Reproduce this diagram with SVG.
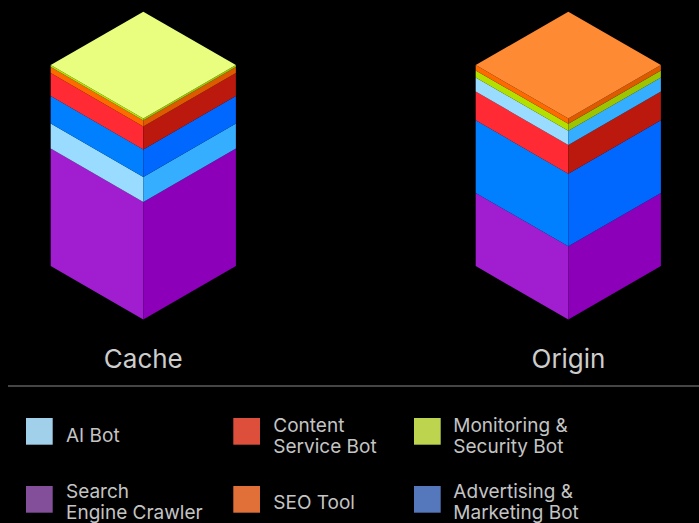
<svg xmlns="http://www.w3.org/2000/svg" width="699" height="523" viewBox="0 0 699 523">
<style>
.lbl{font-family:Inter,"Liberation Sans",sans-serif;font-size:26px;fill:#cdcdcd;text-anchor:middle}
.lg{font-family:Inter,"Liberation Sans",sans-serif;font-size:19px;fill:#c4c4c4}
.gL{fill:#b4e000}.gR{fill:#9cc400}
.oL{fill:#ff6a00}.oR{fill:#dd5a00}
.rL{fill:#ff2a33}.rR{fill:#bb180e}
.bL{fill:#0080ff}.bR{fill:#0068ff}
.lL{fill:#9adcff}.lR{fill:#36aeff}
.pL{fill:#a01ed0}.pR{fill:#8c00ba}
</style>
<rect width="699" height="523" fill="#000"/>
<g id="cache" transform="translate(143.3,65.1)">
  <polygon class="pL" points="-92.6,83.5 0,136.9 0,254.4 -92.6,201"/>
  <polygon class="pR" points="0,136.9 92.6,83.5 92.6,201 0,254.4"/>
  <polygon class="lL" points="-92.6,58.5 0,111.9 0,136.9 -92.6,83.5"/>
  <polygon class="lR" points="0,111.9 92.6,58.5 92.6,83.5 0,136.9"/>
  <polygon class="bL" points="-92.6,31 0,84.4 0,111.9 -92.6,58.5"/>
  <polygon class="bR" points="0,84.4 92.6,31 92.6,58.5 0,111.9"/>
  <polygon class="rL" points="-92.6,8 0,61.4 0,84.4 -92.6,31"/>
  <polygon class="rR" points="0,61.4 92.6,8 92.6,31 0,84.4"/>
  <polygon class="oL" points="-92.6,2 0,55.4 0,61.4 -92.6,8"/>
  <polygon class="oR" points="0,55.4 92.6,2 92.6,8 0,61.4"/>
  <polygon class="gL" points="-92.6,0 0,53.4 0,55.4 -92.6,2"/>
  <polygon class="gR" points="0,53.4 92.6,0 92.6,2 0,55.4"/>
  <polygon fill="#e9fe7e" points="0,-53.4 92.6,0 0,53.4 -92.6,0"/>
</g>
<g id="origin" transform="translate(568.3,65.1)">
  <polygon class="pL" points="-92.6,127.8 0,181.2 0,254.4 -92.6,201"/>
  <polygon class="pR" points="0,181.2 92.6,127.8 92.6,201 0,254.4"/>
  <polygon class="bL" points="-92.6,55.2 0,108.6 0,181.2 -92.6,127.8"/>
  <polygon class="bR" points="0,108.6 92.6,55.2 92.6,127.8 0,181.2"/>
  <polygon class="rL" points="-92.6,26.4 0,79.8 0,108.6 -92.6,55.2"/>
  <polygon class="rR" points="0,79.8 92.6,26.4 92.6,55.2 0,108.6"/>
  <polygon class="lL" points="-92.6,12.3 0,65.7 0,79.8 -92.6,26.4"/>
  <polygon class="lR" points="0,65.7 92.6,12.3 92.6,26.4 0,79.8"/>
  <polygon class="gL" points="-92.6,5.3 0,58.7 0,65.7 -92.6,12.3"/>
  <polygon class="gR" points="0,58.7 92.6,5.3 92.6,12.3 0,65.7"/>
  <polygon class="oL" points="-92.6,0 0,53.4 0,58.7 -92.6,5.3"/>
  <polygon class="oR" points="0,53.4 92.6,0 92.6,5.3 0,58.7"/>
  <polygon fill="#fe8a33" points="0,-53.4 92.6,0 0,53.4 -92.6,0"/>
</g>
<g id="labels">
  <text class="lbl" x="143.3" y="368">Cache</text>
  <text class="lbl" x="568.5" y="368">Origin</text>
</g>
<g id="connectors">
  <line x1="8" y1="386" x2="699" y2="386" stroke="#8a8a8a" stroke-width="1"/>
</g>
<g id="legend">
  <g id="leg-ai"><rect x="26" y="418" width="26.7" height="26.7" fill="#a0d0ea"/><text class="lg" x="66" y="442">AI Bot</text></g>
  <g id="leg-content"><rect x="233.3" y="418" width="26.7" height="26.7" fill="#dd4f3a"/><text class="lg" x="273.3" y="431.7">Content</text><text class="lg" x="273.3" y="452.7">Service Bot</text></g>
  <g id="leg-monitor"><rect x="414" y="418" width="26.7" height="26.7" fill="#bdd54e"/><text class="lg" x="453.3" y="431.7">Monitoring &amp;</text><text class="lg" x="453.3" y="452.7">Security Bot</text></g>
  <g id="leg-search"><rect x="26" y="486" width="26.7" height="26.7" fill="#834e9a"/><text class="lg" x="66" y="498.3">Search</text><text class="lg" x="66" y="519.3">Engine Crawler</text></g>
  <g id="leg-seo"><rect x="233.3" y="486" width="26.7" height="26.7" fill="#e07038"/><text class="lg" x="273.3" y="509.3">SEO Tool</text></g>
  <g id="leg-ads"><rect x="414" y="486" width="26.7" height="26.7" fill="#5577bb"/><text class="lg" x="453.3" y="498.3">Advertising &amp;</text><text class="lg" x="453.3" y="519.3">Marketing Bot</text></g>
</g>
</svg>
